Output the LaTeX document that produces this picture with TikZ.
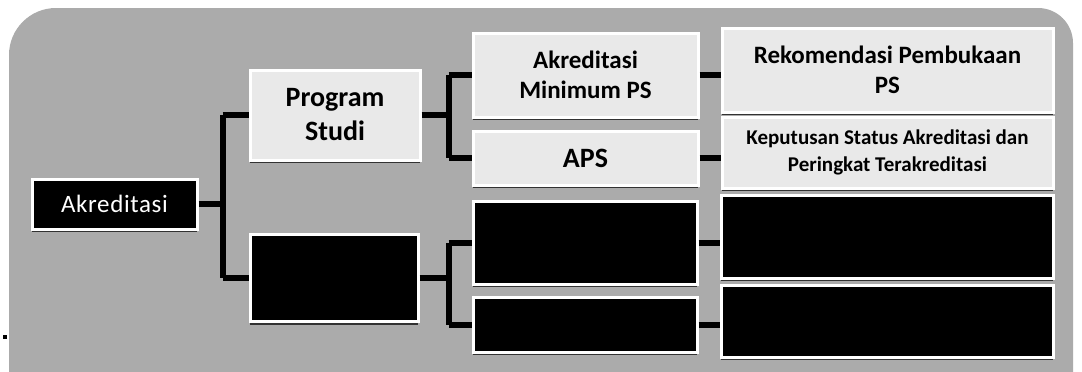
\documentclass[tikz,border=0pt]{standalone}
\usepackage{fontspec}
\setmainfont{Carlito}
\usetikzlibrary{shadows}
\definecolor{bggrey}{HTML}{ABABAB}
\definecolor{lightfill}{HTML}{E9E9E9}
\tikzset{
  basebox/.style={rectangle, draw=white, line width=3pt, inner sep=0pt, align=center,
    drop shadow={shadow xshift=0pt, shadow yshift=-3pt, opacity=0.7, fill=black}},
  lightbox/.style={basebox, fill=lightfill, text=black, font=\bfseries},
  darkbox/.style={basebox, fill=black, text=white},
  conn/.style={draw=black, line width=6pt}
}
\begin{document}
\begin{tikzpicture}[x=1pt, y=-1pt]
\useasboundingbox (0,0) rectangle (1082,372);
\fill[white] (0,0) rectangle (1082,372);
\fill[bggrey] (9,385) -- (9,55) arc[start angle=180, end angle=270, radius=47] -- (1038,8)
  arc[start angle=270, end angle=360, radius=35] -- (1073,385) -- cycle;
\fill[black] (3,335) rectangle (7,339);
% column 1
\node[darkbox, minimum width=165pt, minimum height=50pt, font=\addfontfeatures{LetterSpace=2.5}\fontsize{25}{28}\selectfont] (akr) at (114.5,204) {Akreditasi};
% column 2
\node[lightbox, minimum width=170pt, minimum height=90pt, font=\bfseries\fontsize{28}{34}\selectfont] (ps) at (335,115) {Program\\Studi};
\node[darkbox, minimum width=168pt, minimum height=87pt] (b2) at (334,278) {};
% column 3
\node[lightbox, minimum width=225pt, minimum height=84pt, font=\bfseries\fontsize{25}{30}\selectfont] (am) at (585.5,75) {Akreditasi\\Minimum PS};
\node[lightbox, minimum width=225pt, minimum height=54pt, font=\bfseries\fontsize{28}{30}\selectfont] (aps) at (585.5,158) {APS};
\node[darkbox, minimum width=224pt, minimum height=83pt] (b3) at (585,242.5) {};
\node[darkbox, minimum width=224pt, minimum height=55pt] (b4) at (585,324.5) {};
% column 4
\node[lightbox, minimum width=331pt, minimum height=84pt, font=\bfseries\fontsize{25}{30}\selectfont] (rk) at (887.5,70) {Rekomendasi Pembukaan\\PS};
\node[lightbox, minimum width=331pt, minimum height=71pt, font=\bfseries\fontsize{21}{27}\selectfont] (kp) at (887.5,152.5) {Keputusan Status Akreditasi dan\\Peringkat Terakreditasi};
\node[darkbox, minimum width=332pt, minimum height=83pt] (b5) at (887,236.5) {};
\node[darkbox, minimum width=332pt, minimum height=72pt] (b6) at (887,321) {};
% connectors
\draw[conn] (akr.east) -- ++(24,0) coordinate (j1);
\draw[conn] (j1 |- ps.west) -- (j1 |- b2.west);
\draw[conn] (j1 |- ps.west) -- (ps.west);
\draw[conn] (j1 |- b2.west) -- (b2.west);
\draw[conn] (ps.east) -- ++(27,0) coordinate (j2);
\draw[conn] (j2 |- am.west) -- (j2 |- aps.west);
\draw[conn] (j2 |- am.west) -- (am.west);
\draw[conn] (j2 |- aps.west) -- (aps.west);
\draw[conn] (b2.east) -- ++(29,0) coordinate (j3);
\draw[conn] (j3 |- b3.west) -- (j3 |- b4.west);
\draw[conn] (j3 |- b3.west) -- (b3.west);
\draw[conn] (j3 |- b4.west) -- (b4.west);
\draw[conn] (am.east) -- (am.east -| rk.west);
\draw[conn] (aps.east) -- (aps.east -| kp.west);
\draw[conn] (b3.east) -- (b3.east -| b5.west);
\draw[conn] (b4.east) -- (b4.east -| b6.west);
\end{tikzpicture}
\end{document}
